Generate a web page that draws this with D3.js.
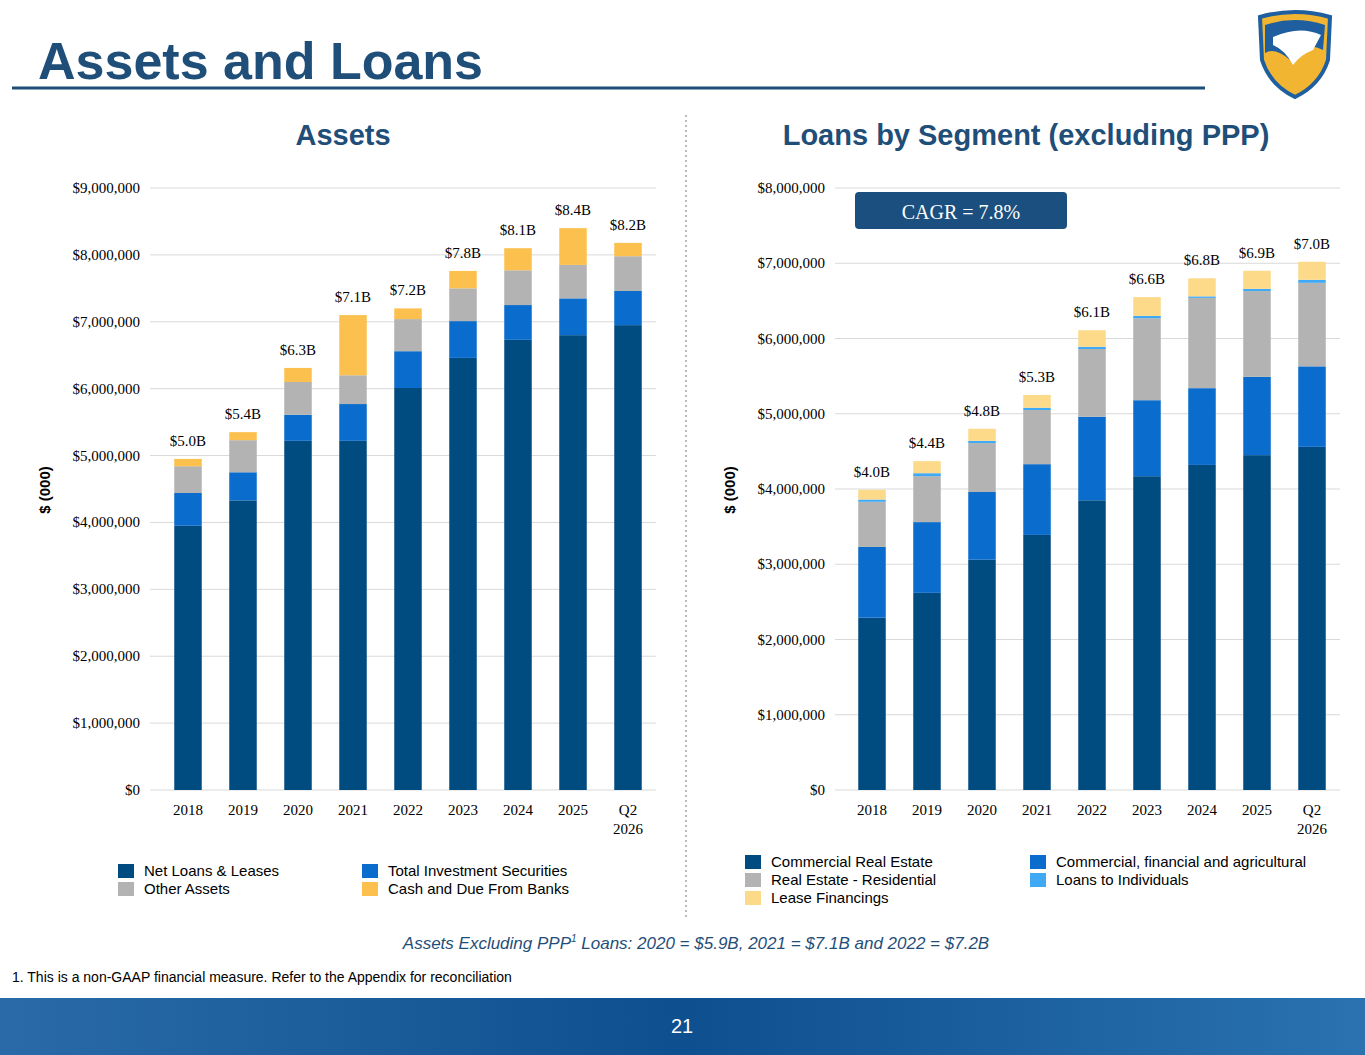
<!DOCTYPE html><html><head><meta charset="utf-8">
<script src="https://cdn.jsdelivr.net/npm/d3@7/dist/d3.min.js"></script>
<style>body{margin:0;background:#fff}</style></head><body>
<svg id="c" width="1365" height="1055"></svg>
<script>
const years=["2018","2019","2020","2021","2022","2023","2024","2025","Q2 2026"];
// Assets (thousands)
const netLoans=[3950,4330,5220,5220,6010,6460,6730,6800,6950].map(v=>v*1000);
const investSec=[490,420,390,550,550,550,520,550,510].map(v=>v*1000);
const otherAssets=[400,480,490,430,480,490,520,500,520].map(v=>v*1000);
const cashDue=[110,120,210,900,160,260,330,550,200].map(v=>v*1000);
const assetLabels=["$5.0B","$5.4B","$6.3B","$7.1B","$7.2B","$7.8B","$8.1B","$8.4B","$8.2B"];
// Loans (thousands)
const cre=[2290,2620,3060,3390,3850,4170,4320,4450,4560].map(v=>v*1000);
const cfa=[940,940,900,940,1110,1010,1020,1040,1070].map(v=>v*1000);
const reRes=[600,610,650,720,900,1090,1200,1140,1110].map(v=>v*1000);
const indiv=[30,40,30,30,30,30,20,30,40].map(v=>v*1000);
const lease=[130,160,160,170,220,250,240,240,240].map(v=>v*1000);
const loanLabels=["$4.0B","$4.4B","$4.8B","$5.3B","$6.1B","$6.6B","$6.8B","$6.9B","$7.0B"];
const leftTicks=d3.range(0,9000001,1000000), rightTicks=d3.range(0,8000001,1000000);

const svg=d3.select("#c");
const blue="#1f4e79";
svg.append("text").attr("x",38).attr("y",79).attr("font-family","Liberation Sans,Arial").attr("font-weight","bold").attr("font-size",52).attr("fill",blue).text("Assets and Loans");
svg.append("line").attr("x1",12).attr("x2",1205).attr("y1",88).attr("y2",88).attr("stroke",blue).attr("stroke-width",3);
const lg=svg.append("g").attr("transform","translate(1295,55)");
lg.append("path").attr("d","M-35,-38 Q0,-48 35,-38 L33,5 Q25,30 0,42 Q-25,30 -33,5 Z").attr("fill","#f2b531").attr("stroke","#1f5f9f").attr("stroke-width",4);
lg.append("path").attr("d","M-30,-30 Q0,-40 30,-30 L28,-5 Q10,-15 -5,5 Q-20,-8 -30,-2 Z").attr("fill","#1f5f9f");
lg.append("path").attr("d","M-22,-18 Q5,-30 26,-20 L18,-5 Q5,0 -2,10 Q-10,-5 -22,-10Z").attr("fill","#fff");
svg.append("line").attr("x1",686).attr("x2",686).attr("y1",115).attr("y2",918).attr("stroke","#777").attr("stroke-dasharray","2,3");
const fg=svg.append("defs").append("linearGradient").attr("id","fg");
fg.append("stop").attr("offset","0").attr("stop-color","#2a6aa8");fg.append("stop").attr("offset","0.5").attr("stop-color","#0e4f8f");fg.append("stop").attr("offset","1").attr("stop-color","#2a72b0");
svg.append("rect").attr("x",0).attr("y",998).attr("width",1365).attr("height",57).attr("fill","url(#fg)");
svg.append("text").attr("x",682).attr("y",1033).attr("text-anchor","middle").attr("fill","#fff").attr("font-family","Liberation Sans,Arial").attr("font-size",20).text("21");
svg.append("text").attr("x",12).attr("y",982).attr("font-family","Liberation Sans,Arial").attr("font-size",14).text("1. This is a non-GAAP financial measure. Refer to the Appendix for reconciliation");
const nt=svg.append("text").attr("x",696).attr("y",949).attr("text-anchor","middle").attr("font-family","Liberation Sans,Arial").attr("font-style","italic").attr("font-size",17).attr("fill",blue);
nt.append("tspan").text("Assets Excluding PPP");nt.append("tspan").attr("font-size",10).attr("dy",-7).text("1");nt.append("tspan").attr("dy",7).text(" Loans: 2020 = $5.9B, 2021 = $7.1B and 2022 = $7.2B");

function chart(o){
  const y=d3.scaleLinear().domain([0,o.max]).range([790,188]);
  const x=d3.scaleBand().domain(years).range([o.x0,o.x1]).paddingInner(0.5).paddingOuter(0.25);
  const g=svg.append("g");
  g.append("text").attr("x",o.tx).attr("y",145).attr("text-anchor","middle").attr("font-family","Liberation Sans,Arial").attr("font-weight","bold").attr("font-size",29).attr("fill",blue).text(o.title);
  o.ticks.forEach(t=>{g.append("line").attr("x1",o.gx0).attr("x2",o.gx1).attr("y1",y(t)).attr("y2",y(t)).attr("stroke","#d9d9d9");
    g.append("text").attr("x",o.gx0-10).attr("y",y(t)+5).attr("text-anchor","end").attr("font-family","Liberation Serif,Times New Roman").attr("font-size",15).text("$"+d3.format(",")(t));});
  g.append("text").attr("transform",`translate(${o.yl},490) rotate(-90)`).attr("text-anchor","middle").attr("font-family","Liberation Sans,Arial").attr("font-weight","bold").attr("font-size",15).text("$ (000)");
  const stack=d3.stack().keys(o.series.map((s,i)=>i)).value((d,k)=>o.series[k].v[d])(years.map((_,i)=>i));
  stack.forEach((layer,k)=>layer.forEach((d,i)=>g.append("rect").attr("x",x(years[i])).attr("width",x.bandwidth()).attr("y",y(d[1])).attr("height",y(d[0])-y(d[1])).attr("fill",o.series[k].c)));
  const top=stack[stack.length-1];
  years.forEach((yr,i)=>{
    g.append("text").attr("x",x(yr)+x.bandwidth()/2).attr("y",y(top[i][1])-13).attr("text-anchor","middle").attr("font-family","Liberation Serif,Times New Roman").attr("font-size",15).text(o.labels[i]);
    yr.split(" ").forEach((p,j)=>g.append("text").attr("x",x(yr)+x.bandwidth()/2).attr("y",815+j*19).attr("text-anchor","middle").attr("font-family","Liberation Serif,Times New Roman").attr("font-size",15).text(p));
  });
  o.legend.forEach(l=>{g.append("rect").attr("x",l.x).attr("y",l.y-12).attr("width",16).attr("height",14).attr("fill",l.c);
    g.append("text").attr("x",l.x+26).attr("y",l.y).attr("font-family","Liberation Sans,Arial").attr("font-size",15).text(l.t);});
}
const C1="#004b80",C2="#0a6ccc",C3="#b3b3b3";
chart({title:"Assets",tx:343,x0:160.5,x1:655.5,gx0:150,gx1:656,max:9000000,ticks:leftTicks,yl:50,labels:assetLabels,
 series:[{v:netLoans,c:C1},{v:investSec,c:C2},{v:otherAssets,c:C3},{v:cashDue,c:"#fbc04e"}],
 legend:[{x:118,y:876,c:C1,t:"Net Loans & Leases"},{x:118,y:894,c:C3,t:"Other Assets"},{x:362,y:876,c:C2,t:"Total Investment Securities"},{x:362,y:894,c:"#fbc04e",t:"Cash and Due From Banks"}]});
chart({title:"Loans by Segment (excluding PPP)",tx:1026,x0:844.5,x1:1339.5,gx0:835,gx1:1340,max:8000000,ticks:rightTicks,yl:735,labels:loanLabels,
 series:[{v:cre,c:C1},{v:cfa,c:C2},{v:reRes,c:C3},{v:indiv,c:"#3fa9f5"},{v:lease,c:"#fdd98a"}],
 legend:[{x:745,y:867,c:C1,t:"Commercial Real Estate"},{x:745,y:885,c:C3,t:"Real Estate - Residential"},{x:745,y:903,c:"#fdd98a",t:"Lease Financings"},{x:1030,y:867,c:C2,t:"Commercial, financial and agricultural"},{x:1030,y:885,c:"#3fa9f5",t:"Loans to Individuals"}]});
svg.append("rect").attr("x",855).attr("y",192).attr("width",212).attr("height",37).attr("rx",4).attr("fill","#1a4f7f");
svg.append("text").attr("x",961).attr("y",219).attr("text-anchor","middle").attr("fill","#fff").attr("font-family","Liberation Serif,Times New Roman").attr("font-size",20).text("CAGR = 7.8%");
</script></body></html>
